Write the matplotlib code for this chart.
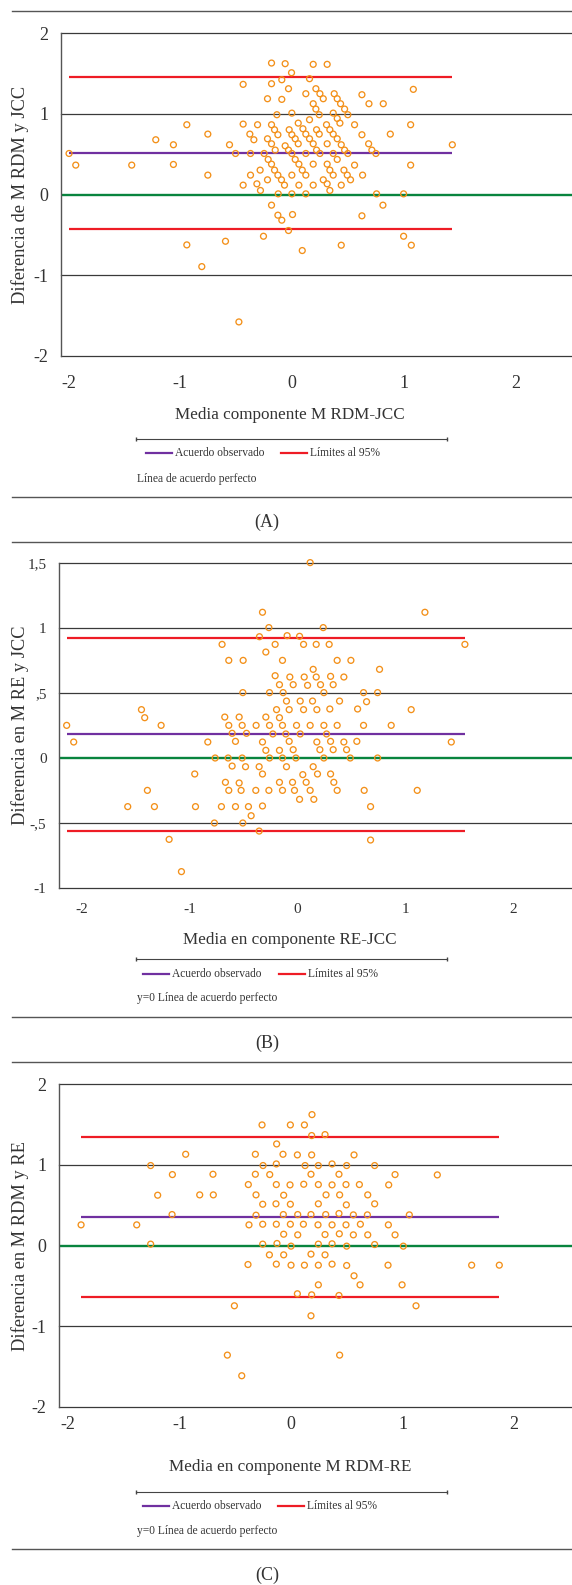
import matplotlib
matplotlib.use("Agg")
import matplotlib.pyplot as plt
from matplotlib.lines import Line2D

plt.rcParams['font.family'] = ['Liberation Serif', 'DejaVu Serif']

# ---------------- Panel A data ----------------
a_x = [-1.994, -1.934, -1.433, -1.218, -1.06, -1.06, -0.94, -0.752, -0.752, -0.94, -0.806, -0.594,
       -0.558, -0.504, -0.436, -0.436, -0.436, -0.376, -0.37, -0.37, -0.34, -0.307, -0.313, -0.284,
       -0.281, -0.254, -0.248, -0.218, -0.218, -0.218, -0.212, -0.182, -0.182, -0.182, -0.182, -0.182,
       -0.182, -0.155, -0.155, -0.149, -0.134, -0.125, -0.125, -0.122, -0.125, -0.093, -0.09, -0.09,
       -0.09, -0.066, -0.06, -0.06, -0.03, -0.03, -0.03, -0.024, -0.003, 0.0, 0.0, 0.0, 0.0, 0.0,
       0.006, 0.03, 0.03, 0.057, 0.057, 0.063, 0.063, 0.093, 0.093, 0.099, 0.125, 0.125, 0.125, 0.125,
       0.125, 0.158, 0.158, 0.158, 0.191, 0.191, 0.191, 0.191, 0.191, 0.215, 0.215, 0.221, 0.221,
       0.245, 0.245, 0.251, 0.251, 0.281, 0.281, 0.316, 0.31, 0.316, 0.316, 0.316, 0.34, 0.34, 0.34,
       0.37, 0.37, 0.37, 0.37, 0.379, 0.406, 0.406, 0.406, 0.406, 0.43, 0.436, 0.442, 0.442, 0.442,
       0.466, 0.472, 0.472, 0.496, 0.501, 0.501, 0.525, 0.561, 0.561, 0.627, 0.627, 0.627, 0.633,
       0.687, 0.69, 0.716, 0.752, 0.758, 0.818, 0.815, 0.881, 1.0, 1.0, 1.063, 1.063, 1.069, 1.087,
       1.436, -0.474]
a_y = [0.508, 0.364, 0.364, 0.678, 0.616, 0.372, 0.864, 0.748, 0.24, -0.624, -0.893, -0.579,
       0.616, 0.508, 1.364, 0.872, 0.116, 0.748, 0.508, 0.24, 0.678, 0.864, 0.132, 0.302,
       0.05, -0.517, 0.508, 0.69, 1.186, 0.182, 0.434, 1.628, 1.372, 0.864, 0.628, 0.376,
       -0.132, 0.802, 0.302, 0.55, 0.988, 0.74, 0.24, 0.008, -0.256, 0.182, 1.421, 1.178,
       -0.318, 0.116, 1.62, 0.603, 1.31, 0.55, -0.446, 0.802, 1.508, 1.008, 0.74, 0.508, 0.24, 0.008,
       -0.248, 0.69, 0.434, 0.884, 0.628, 0.376, 0.116, 0.302, -0.694, 0.814, 0.24, 0.748, 1.248, 0.508,
       0.008, 0.926, 1.434, 0.69, 1.612, 1.124, 0.628, 0.376, 0.116, 1.31, 1.058, 0.802, 0.55,
       0.988, 0.748, 0.508, 1.248, 1.186, 0.182, 1.612, 0.864, 0.628, 0.376, 0.132, 0.802, 0.302, 0.05,
       1.008, 0.748, 0.508, 0.24, 1.248, 1.186, 0.942, 0.69, 0.434, 0.884, 1.124, 0.616, 0.116, -0.628,
       0.302, 1.058, 0.55, 0.24, 0.988, 0.508, 0.182, 0.864, 0.364, 1.236, 0.74, -0.264, 0.24,
       0.628, 1.124, 0.55, 0.508, 0.008, 1.124, -0.132, 0.748, 0.008, -0.517, 0.864, 0.364, -0.628, 1.302,
       0.616, -1.578]
a_mean, a_upper, a_lower = 0.508, 1.459, -0.426

# ---------------- Panel B data ----------------
b_x = [0.117, -0.324, 1.179, -0.265, 0.238, -0.352, -0.096, 0.019, -0.698, -0.207, 0.056, 0.173,
       0.293, 1.549, -0.293, -0.636, -0.503, -0.139, 0.367, 0.494, 0.145, 0.759, -0.207, -0.071,
       0.062, 0.173, 0.306, 0.429, -0.167, -0.04, 0.093, 0.213, 0.33, -0.506, -0.259, -0.133, 0.244,
       0.611, 0.741, -0.102, 0.025, 0.139, 0.389, 0.639, -1.444, -0.194, -0.077, 0.056, 0.179, 0.299,
       0.556, 1.052, -1.414, -0.673, -0.54, -0.293, -0.167, -2.136, -1.262, -0.636, -0.512, -0.383,
       -0.259, -0.139, -0.009, 0.117, 0.244, 0.367, 0.611, 0.867, -0.605, -0.472, -0.228, -0.108,
       0.025, 0.269, -2.071, -0.83, -0.574, -0.324, -0.077, 0.179, 0.306, 0.429, 0.549, 1.423,
       -0.293, -0.167, -0.04, 0.207, 0.33, 0.454, -0.762, -0.642, -0.512, -0.259, -0.139, -0.015,
       0.244, 0.488, 0.741, -0.605, -0.481, -0.355, -0.102, 0.145, -0.951, -0.324, 0.049, 0.185,
       0.306, -0.667, -0.54, -0.167, -0.046, 0.08, 0.336, -1.389, -0.636, -0.522, -0.386, -0.265,
       -0.139, -0.028, 0.117, 0.367, 0.617, 1.108, 0.019, 0.151, -1.571, -1.324, -0.944, -0.704,
       -0.574, -0.454, -0.324, 0.676, -0.429, -0.769, -0.506, -0.355, -1.188, 0.676, -1.074]
b_y = [1.503, 1.121, 1.121, 1.003, 1.003, 0.933, 0.941, 0.936, 0.874, 0.874, 0.874, 0.874,
       0.874, 0.874, 0.815, 0.751, 0.751, 0.751, 0.751, 0.751, 0.682, 0.682, 0.633, 0.623,
       0.623, 0.623, 0.628, 0.623, 0.564, 0.564, 0.559, 0.564, 0.564, 0.503, 0.503, 0.503, 0.503,
       0.503, 0.503, 0.438, 0.438, 0.438, 0.438, 0.433, 0.372, 0.372, 0.372, 0.372, 0.372, 0.377,
       0.377, 0.372, 0.31, 0.315, 0.315, 0.315, 0.31, 0.251, 0.251, 0.251, 0.251, 0.251,
       0.251, 0.251, 0.251, 0.251, 0.251, 0.251, 0.251, 0.251, 0.19, 0.19, 0.185, 0.185,
       0.185, 0.185, 0.123, 0.123, 0.128, 0.123, 0.128, 0.123, 0.128, 0.123, 0.128, 0.123,
       0.059, 0.059, 0.064, 0.064, 0.064, 0.064, 0.0, 0.0, 0.0, 0.0, 0.0, 0.0,
       0.0, 0.0, 0.0, -0.062, -0.067, -0.067, -0.067, -0.067, -0.123, -0.123, -0.128, -0.123,
       -0.123, -0.187, -0.192, -0.187, -0.187, -0.187, -0.187, -0.249, -0.249, -0.249, -0.249, -0.249,
       -0.249, -0.249, -0.249, -0.249, -0.249, -0.249, -0.318, -0.318, -0.374, -0.374, -0.374, -0.374,
       -0.374, -0.374, -0.369, -0.374, -0.444, -0.5, -0.5, -0.562, -0.626, -0.631, -0.874]
b_mean, b_upper, b_lower = 0.182, 0.923, -0.564

# ---------------- Panel C data ----------------
c_x = [0.188, -0.26, -0.006, 0.12, 0.185, 0.305, -0.129, -0.945, -0.32, -0.072, 0.057, 0.185, 0.565,
       -1.259, -0.251, -0.132, 0.126, 0.245, 0.368, 0.499, 0.75, -1.064, -0.7, -0.32, -0.191, 0.179,
       0.43, 0.933, 1.312, -0.383, -0.132, -0.009, 0.114, 0.245, 0.368, 0.493, 0.613, 0.876, -1.196,
       -0.819, -0.697, -0.314, -0.066, 0.314, 0.436, 0.688, -0.254, -0.135, -0.006, 0.245, 0.496,
       0.75, -1.067, -0.314, -0.069, 0.06, 0.179, 0.311, 0.43, 0.559, 0.685, 1.061, -1.883, -1.384,
       -0.377, -0.254, -0.132, -0.006, 0.111, 0.242, 0.368, 0.493, 0.622, 0.873, -0.066, 0.06, 0.305,
       0.433, 0.559, 0.688, 0.933, -1.259, -0.254, -0.126, 0.0, 0.245, 0.368, 0.499, 0.75, 1.007,
       -0.194, -0.066, 0.179, 0.305, -0.386, -0.132, 0.0, 0.12, 0.245, 0.368, 0.499, 0.87, 1.62,
       1.868, 0.565, 0.245, 0.619, 0.996, 0.057, 0.185, 0.43, -0.508, 1.121, 0.179, -0.571, 0.436,
       -0.442]
c_y = [1.624, 1.496, 1.496, 1.496, 1.364, 1.376, 1.26, 1.132, 1.132, 1.132, 1.124, 1.124, 1.124,
       0.992, 0.992, 1.012, 0.992, 0.992, 1.012, 0.992, 0.992, 0.88, 0.884, 0.884, 0.88, 0.884,
       0.884, 0.88, 0.876, 0.756, 0.756, 0.752, 0.76, 0.756, 0.752, 0.756, 0.756, 0.752, 0.624,
       0.628, 0.628, 0.628, 0.624, 0.628, 0.628, 0.628, 0.512, 0.517, 0.512, 0.517, 0.504,
       0.517, 0.384, 0.376, 0.384, 0.384, 0.384, 0.384, 0.397, 0.38, 0.38, 0.38, 0.256, 0.256,
       0.256, 0.264, 0.264, 0.264, 0.264, 0.256, 0.256, 0.256, 0.264, 0.256, 0.14, 0.132, 0.136,
       0.145, 0.132, 0.132, 0.132, 0.017, 0.017, 0.025, -0.008, 0.017, 0.021, -0.008, 0.012, -0.008,
       -0.116, -0.116, -0.107, -0.116, -0.236, -0.231, -0.244, -0.244, -0.244, -0.231, -0.248, -0.244, -0.244,
       -0.244, -0.376, -0.488, -0.488, -0.488, -0.599, -0.612, -0.62, -0.748, -0.748, -0.872, -1.36, -1.36,
       -1.616]
c_mean, c_upper, c_lower = 0.351, 1.347, -0.645

# tick labels
a_yticks = [-2, -1, 0, 1, 2]
a_yticklabels = ['-2', '-1', '0', '1', '2']
b_yticks = [-1, -0.5, 0, 0.5, 1, 1.5]
b_yticklabels = ['-1', '-,5', '0', ',5', '1', '1,5']
c_yticks = [-2, -1, 0, 1, 2]
c_yticklabels = ['-2', '-1', '0', '1', '2']
x_ticks = [-2, -1, 0, 1, 2]
x_ticklabels = ['-2', '-1', '0', '1', '2']

W, H = 572, 1585
fig = plt.figure(figsize=(W / 100, H / 100), dpi=100)

ORANGE = '#f39019'
PURPLE = '#7030a0'
RED = '#ee1c25'
GREEN = '#08843e'
GRID = '#3a3a3a'
TXT = '#333333'


def fx(px):
    return px / W


def fy(py):
    return 1 - py / H


def panel(x, y, mean, upper, lower, top, bottom, left, xlim, ylim, yticks, yticklabels,
          ytick_fs, xtick_fs, xpad, ylabel, ylabel_y, xlabel, xlabel_y):
    ax = fig.add_axes([fx(left), fy(bottom), fx(W - left), (bottom - top) / H])
    ax.set_xlim(*xlim)
    ax.set_ylim(*ylim)
    for yy in yticks:
        if yy != 0:
            ax.axhline(yy, color=GRID, lw=0.9, zorder=1, clip_on=False)
    ax.axhline(0, color=GREEN, lw=1.7, zorder=2)
    x0, x1 = min(x), max(x)
    ax.plot([x0, x1], [upper, upper], color=RED, lw=1.6, zorder=3, solid_capstyle='butt')
    ax.plot([x0, x1], [lower, lower], color=RED, lw=1.6, zorder=3, solid_capstyle='butt')
    ax.plot([x0, x1], [mean, mean], color=PURPLE, lw=1.6, zorder=3, solid_capstyle='butt')
    ax.scatter(x, y, s=18, facecolors='none', edgecolors=ORANGE, linewidths=0.95, zorder=4,
               clip_on=False)
    for s in ['right', 'top', 'bottom']:
        ax.spines[s].set_visible(False)
    ax.spines['left'].set_color('#555555')
    ax.spines['left'].set_linewidth(1.0)
    ax.set_yticks(yticks)
    ax.set_yticklabels(yticklabels)
    ax.set_xticks(x_ticks)
    ax.set_xticklabels(x_ticklabels)
    ax.tick_params(axis='y', length=0, pad=9, labelsize=ytick_fs, labelcolor=TXT)
    ax.tick_params(axis='x', length=0, pad=xpad, labelsize=xtick_fs, labelcolor=TXT)
    ax.patch.set_alpha(0)
    fig.text(fx(20), fy(ylabel_y), ylabel, rotation=90, ha='center', va='center',
             fontsize=13.2, color=TXT)
    fig.text(fx(290), fy(xlabel_y), xlabel, ha='center', va='center', fontsize=12.3, color=TXT)
    return ax


def legend_block(line_y, item_y, note_y, note, x_purple, x_red):
    fig.add_artist(Line2D([fx(136), fx(447)], [fy(line_y), fy(line_y)], color='#444444',
                          lw=0.8, marker='|', markersize=2.5, markevery=[0, 1]))
    fig.add_artist(Line2D([fx(x_purple), fx(x_purple + 26)], [fy(item_y), fy(item_y)],
                          color=PURPLE, lw=1.6))
    fig.text(fx(x_purple + 29), fy(item_y), 'Acuerdo observado', ha='left', va='center',
             fontsize=8.3, color=TXT)
    fig.add_artist(Line2D([fx(x_red), fx(x_red + 26)], [fy(item_y), fy(item_y)],
                          color=RED, lw=1.6))
    fig.text(fx(x_red + 29), fy(item_y), 'Límites al 95%', ha='left', va='center',
             fontsize=8.3, color=TXT)
    fig.text(fx(137), fy(note_y), note, ha='left', va='center', fontsize=8.3, color=TXT)


def sep(py):
    fig.add_artist(Line2D([fx(12), fx(572)], [fy(py), fy(py)], color='#555555', lw=1.0))


# Panel A
panel(a_x, a_y, a_mean, a_upper, a_lower, 33, 356, 61, (-2.066, 2.507), (-2, 2),
      a_yticks, a_yticklabels, 13, 13, 14,
      'Diferencia de M RDM y JCC', 194.5, 'Media componente M RDM-JCC', 415)
legend_block(439, 453, 479, 'Línea de acuerdo perfecto', 146, 281)
sep(11)
sep(497)
fig.text(fx(267), fy(522), '(A)', ha='center', va='center', fontsize=13, color=TXT)

# Panel B
panel(b_x, b_y, b_mean, b_upper, b_lower, 563, 888, 59, (-2.207, 2.54), (-1, 1.5),
      b_yticks, b_yticklabels, 11, 11, 11,
      'Diferencia en M RE y JCC', 725, 'Media en componente RE-JCC', 940)
legend_block(959, 974, 998, 'y=0 Línea de acuerdo perfecto', 143, 279)
sep(542)
sep(1017)
fig.text(fx(267), fy(1043), '(B)', ha='center', va='center', fontsize=13, color=TXT)

# Panel C
panel(c_x, c_y, c_mean, c_upper, c_lower, 1084.3, 1406.7, 59, (-2.081, 2.52), (-2, 2),
      c_yticks, c_yticklabels, 13, 13, 7,
      'Diferencia en M RDM y RE', 1246, 'Media en componente M RDM-RE', 1467)
legend_block(1492, 1506, 1531, 'y=0 Línea de acuerdo perfecto', 143, 278)
sep(1062)
sep(1549)
fig.text(fx(267), fy(1575), '(C)', ha='center', va='center', fontsize=13, color=TXT)

fig.savefig('out.png', dpi=100)
